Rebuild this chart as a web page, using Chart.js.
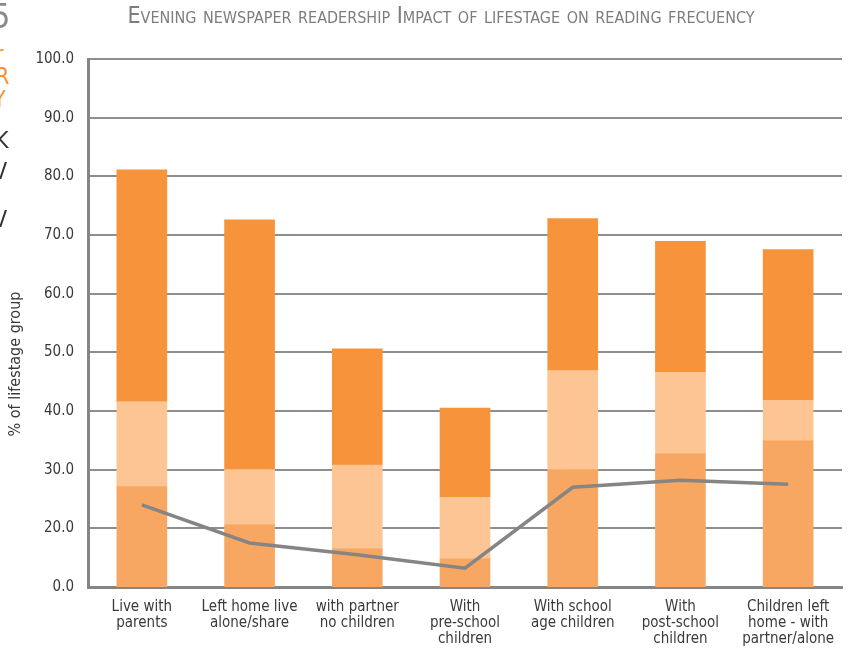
<!DOCTYPE html>
<html>
<head>
<meta charset="utf-8">
<script src="https://cdn.jsdelivr.net/npm/chart.js@4"></script>
<style>
  html, body { margin: 0; padding: 0; background: #fff; }
  #wrap { position: relative; width: 848px; height: 648px; overflow: hidden; }
  #title {
    position: absolute; left: 0; width: 882px; top: 2px; text-align: center;
    font-family: "Liberation Sans Narrow", "DejaVu Sans Condensed", sans-serif;
    font-variant: small-caps; font-size: 23px; color: #7d7d7d;
  }
  #ytitle {
    position: absolute; left: 15px; top: 364px; width: 200px; margin-left: -100px; margin-top: -10px;
    height: 20px; line-height: 20px; text-align: center; transform: rotate(-90deg);
    font-family: "Liberation Sans Narrow", "DejaVu Sans Condensed", sans-serif;
    font-size: 16px; color: #3a3a3a; white-space: nowrap;
  }
  .side { position: absolute; font-family: "Liberation Sans Narrow", "DejaVu Sans Condensed", sans-serif; font-size: 23px; }
  canvas { position: absolute; left: 0; top: 0; }
</style>
</head>
<body>
<div id="wrap">
  <canvas id="chart" width="848" height="648"></canvas>
  <div id="title">Evening newspaper readership Impact of lifestage on reading frecuency</div>
  <div id="ytitle">% of lifestage group</div>
  <div class="side" style="left:-9px;top:-4px;font-size:34px;color:#8a8a8a;">5</div>
  <div class="side" style="left:-5px;top:41px;color:#f7923a;">r</div>
  <div class="side" style="left:-5px;top:63px;color:#f7923a;">R</div>
  <div class="side" style="left:-7px;top:86px;color:#f7923a;">Y</div>
  <div class="side" style="left:-5px;top:127px;color:#333;">K</div>
  <div class="side" style="left:-7px;top:158px;color:#333;">V</div>
  <div class="side" style="left:-7px;top:206px;color:#333;">V</div>
</div>
<script>
// Reading frequency by lifestage: three stacked bands plus an overall line
const categories = [
  ["Live with", "parents"],
  ["Left home live", "alone/share"],
  ["with partner", "no children"],
  ["With", "pre-school", "children"],
  ["With school", "age children"],
  ["With", "post-school", "children"],
  ["Children left", "home - with", "partner/alone"]
];

const bandLow = [27.1, 20.6, 16.5, 14.8, 30.0, 32.7, 34.9];
const bandMid = [14.5, 9.4, 14.3, 10.5, 16.9, 13.9, 6.9];
const bandTop = [39.5, 42.6, 19.8, 15.2, 25.9, 22.3, 25.7];
const lineValues = [24.0, 17.5, 15.5, 13.2, 27.0, 28.2, 27.5];

const yTickLabels = ["0.0", "20.0", "30.0", "40.0", "50.0", "60.0", "70.0", "80.0", "90.0", "100.0"];

const labelFont = { family: "'Liberation Sans Narrow', 'DejaVu Sans Condensed', sans-serif", size: 15, lineHeight: 1.07 };

function barSet(label, data, color) {
  return {
    type: "bar",
    label,
    data,
    backgroundColor: color,
    borderWidth: 0,
    barThickness: 50,
    order: 1
  };
}

new Chart(document.getElementById("chart"), {
  data: {
    labels: categories,
    datasets: [
      {
        type: "line",
        label: "Overall",
        data: lineValues,
        borderColor: "#858585",
        borderWidth: 3.5,
        pointRadius: 0,
        tension: 0,
        stack: "line",
        order: 0
      },
      barSet("Low", bandLow, "#f8a762"),
      barSet("Mid", bandMid, "#fcc593"),
      barSet("Top", bandTop, "#f7933a")
    ]
  },
  options: {
    responsive: false,
    animation: false,
    layout: { padding: { top: 59, right: 6, left: 0, bottom: 0 } },
    plugins: {
      legend: { display: false },
      tooltip: { enabled: false }
    },
    scales: {
      x: {
        stacked: true,
        grid: { display: false, drawTicks: false },
        border: { color: "#858585", width: 3 },
        ticks: { color: "#3a3a3a", font: labelFont, padding: 12, maxRotation: 0, autoSkip: false },
        afterFit: (scale) => { scale.height = 61; }
      },
      y: {
        stacked: true,
        min: 10,
        max: 100,
        grid: { color: "#8e8e8e", lineWidth: 2, drawTicks: false },
        border: { color: "#858585", width: 3 },
        ticks: {
          stepSize: 10,
          color: "#3a3a3a",
          font: labelFont,
          padding: 14,
          callback: (value, index) => yTickLabels[index]
        },
        afterFit: (scale) => { scale.width = 88; }
      }
    }
  }
});
</script>
</body>
</html>
